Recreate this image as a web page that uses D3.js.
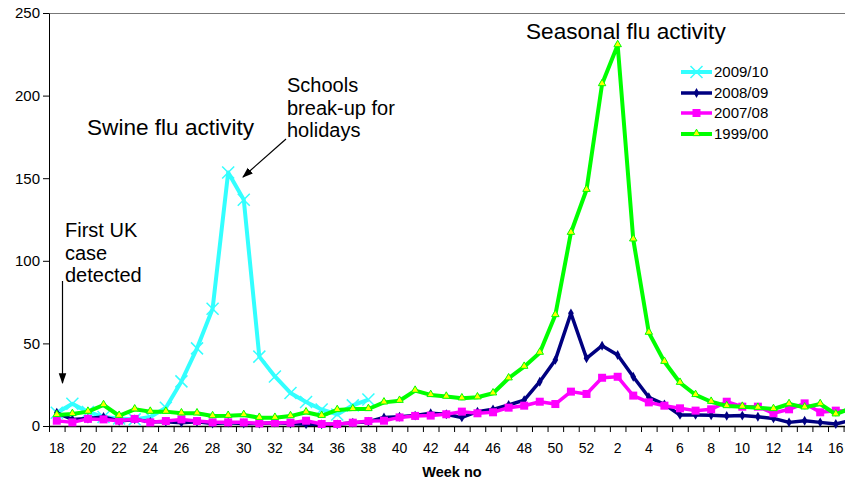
<!DOCTYPE html>
<html>
<head>
<meta charset="utf-8">
<script src="https://cdn.jsdelivr.net/npm/d3@7"></script>
<style>
    body {
        margin: 0;
        background: #fff;
    }
    svg {
        display: block;
        font-family: Arial, "Liberation Sans", sans-serif;
    }
    .axis path,
    .axis line {
        stroke: #000;
    }
    .axis text {
        fill: #000;
    }
</style>
</head>
<body>
<svg id="chart" width="845" height="481"></svg>
<script>
// week numbers run across the year end: 18..52 then 1..17
const weeks = [18, 19, 20, 21, 22, 23, 24, 25, 26, 27, 28, 29, 30, 31, 32, 33, 34, 35, 36, 37, 38, 39, 40, 41, 42, 43, 44, 45, 46, 47, 48, 49, 50, 51, 52,
    1, 2, 3, 4, 5, 6, 7, 8, 9, 10, 11, 12, 13, 14, 15, 16, 17];
const weekLabels = [18, 20, 22, 24, 26, 28, 30, 32, 34, 36, 38, 40, 42, 44, 46, 48, 50, 52, 2, 4, 6, 8, 10, 12, 14, 16];
const yTicks = [0, 50, 100, 150, 200, 250];

const season0910 = [8, 13.5, 8.5, 5.5, 4.5, 4, 5.5, 11, 27, 47, 71, 153.5, 137, 42, 30, 20, 14.5, 10, 7, 12.5, 16];
const season0809 = [8, 4, 4.5, 5.5, 3, 4, 2.5, 2.5, 2, 2.5, 1.5, 2, 1.5, 1.5, 2, 1.5, 1, 1, 1, 2, 2.6, 5.2, 5.6, 6.3, 7.7, 7.1, 5.2, 8.7, 10.1, 12.7, 15.7, 26.8, 40, 68.2, 41,
    48.6, 43, 29.8, 17.4, 13.1, 6.7, 6.7, 6.5, 6.1, 6.3, 5.6, 4.6, 2.2, 3.2, 2.2, 1.2, 3.5];
const season0708 = [3.2, 2.2, 4.3, 4, 3.2, 4.3, 2.2, 3, 4, 3, 2.2, 2.2, 2.2, 1.6, 2, 2, 3.2, 1.2, 1.2, 2, 3, 3.2, 5.2, 6.1, 6.3, 7.1, 8.7, 7.7, 8.3, 11.1, 12.3, 14.7, 13.3, 20.8, 19.4,
    29.2, 29.8, 18.4, 14.3, 12.3, 10.7, 9.3, 10.1, 14.7, 11.7, 11.7, 7.7, 10.1, 13.7, 8.3, 9.3, 9];
const season9900 = [6.7, 7.3, 8.7, 12.7, 6.2, 10.1, 8.7, 8.7, 7.7, 7.7, 6, 6.2, 6.7, 5, 5, 6, 8.3, 6.2, 9.7, 10.3, 10.3, 14.3, 15.3, 21.4, 18.8, 17.8, 16.8, 17.4, 19.8, 28.9, 35.9, 44.4, 67.2, 117, 143,
    207, 230.6, 113, 56.5, 38.9, 26.2, 18.8, 14.7, 12.1, 11.7, 11.1, 10.3, 13.3, 11.3, 13.3, 7.1, 11];

const series = [
    { name: '2009/10', values: season0910, color: '#33ffff', width: 4, marker: 'cross' },
    { name: '2008/09', values: season0809, color: '#000080', width: 3.5, marker: 'diamond' },
    { name: '2007/08', values: season0708, color: '#ff00ff', width: 3.5, marker: 'square' },
    { name: '1999/00', values: season9900, color: '#00ff00', width: 4, marker: 'triangle' },
];

const svg = d3.select('#chart');
const plotLeft = 49, plotTop = 13, plotBottom = 426, step = 15.58;

const x = d3.scaleBand().domain(weeks).range([plotLeft, plotLeft + weeks.length * step]);
const xEdge = d3.scaleLinear().domain([0, weeks.length]).range(x.range());
const y = d3.scaleLinear().domain([0, 250]).range([plotBottom, plotTop]);
const cx = w => x(w) + x.bandwidth() / 2;

// top border of plot area
svg.append('line').attr('x1', plotLeft).attr('x2', 845).attr('y1', plotTop + 0.5).attr('y2', plotTop + 0.5).attr('stroke', '#777');

// y axis
const yAxis = svg.append('g').attr('class', 'axis').attr('transform', `translate(${plotLeft},0)`)
    .call(d3.axisLeft(y).tickValues(yTicks).tickSize(6).tickPadding(3).tickSizeOuter(0));
yAxis.selectAll('text').style('font-size', '15px');

// x axis tick marks on category edges
svg.append('g').attr('class', 'axis').attr('transform', `translate(0,${plotBottom})`)
    .call(d3.axisBottom(xEdge).tickValues(d3.range(weeks.length + 1)).tickSize(6).tickFormat('').tickSizeOuter(0))
    .select('.domain').remove();
svg.append('line').attr('x1', plotLeft).attr('x2', 845).attr('y1', plotBottom + 0.5).attr('y2', plotBottom + 0.5).attr('stroke', '#000').attr('stroke-width', 1.5);

// x labels at category centres
const xAxis = svg.append('g').attr('class', 'axis').attr('transform', `translate(0,${plotBottom})`)
    .call(d3.axisBottom(x).tickValues(weekLabels).tickSize(0).tickPadding(17));
xAxis.select('.domain').remove();
xAxis.selectAll('text').style('font-size', '14px');

svg.append('text').attr('x', 452).attr('y', 477).attr('text-anchor', 'middle')
    .style('font-size', '14.5px').style('font-weight', 'bold').text('Week no');

// markers
function drawMarker(g, s, px, py) {
    if (s.marker === 'cross') {
        g.append('path').attr('d', `M${px - 6},${py - 6}L${px + 6},${py + 6}M${px - 6},${py + 6}L${px + 6},${py - 6}`)
            .attr('stroke', s.color).attr('stroke-width', 1.5).attr('fill', 'none');
    } else if (s.marker === 'diamond') {
        g.append('path').attr('d', d3.symbol(d3.symbolDiamond, 28)()).attr('transform', `translate(${px},${py})`).attr('fill', s.color);
    } else if (s.marker === 'square') {
        g.append('rect').attr('x', px - 4).attr('y', py - 4).attr('width', 8).attr('height', 8).attr('fill', s.color);
    } else {
        g.append('path').attr('d', d3.symbol(d3.symbolTriangle, 24)()).attr('transform', `translate(${px},${py - 0.5})`)
            .attr('fill', '#ffff00').attr('stroke', s.color).attr('stroke-width', 1);
    }
}

const line = d3.line()
    .defined(d => d.v != null)
    .x(d => cx(d.w))
    .y(d => y(d.v));

series.forEach(s => {
    const pts = s.values.map((v, i) => ({ w: weeks[i], v }));
    const g = svg.append('g');
    g.append('path').datum(pts).attr('d', line).attr('fill', 'none')
        .attr('stroke', s.color).attr('stroke-width', s.width).attr('stroke-linejoin', 'round');
    pts.forEach(p => drawMarker(g, s, cx(p.w), y(p.v)));
});

// legend
const legendRows = [72, 93, 113, 134];
series.forEach((s, i) => {
    const g = svg.append('g');
    const ly = legendRows[i];
    g.append('line').attr('x1', 681).attr('x2', 712).attr('y1', ly).attr('y2', ly)
        .attr('stroke', s.color).attr('stroke-width', s.width);
    drawMarker(g, s, 696.5, ly);
    g.append('text').attr('x', 714).attr('y', ly).attr('dy', '0.36em').style('font-size', '15px').text(s.name);
});

// annotations
svg.append('defs').append('marker')
    .attr('id', 'arrow').attr('viewBox', '0 0 10 10').attr('refX', 9).attr('refY', 5)
    .attr('markerWidth', 9).attr('markerHeight', 9).attr('orient', 'auto')
    .append('path').attr('d', 'M0,1.5L10,5L0,8.5Z').attr('fill', '#000');

function label(lines, lx, ly, size, lh) {
    const t = svg.append('text').attr('x', lx).attr('y', ly).style('font-size', size + 'px').attr('fill', '#000');
    lines.forEach((l, i) => t.append('tspan').attr('x', lx).attr('y', ly + i * lh).text(l));
}

label(['Swine flu activity'], 87, 135, 22.6, 0);
label(['Seasonal flu activity'], 526, 39, 22.6, 0);
label(['Schools', 'break-up for', 'holidays'], 287, 92, 20, 22.5);
label(['First UK', 'case', 'detected'], 65, 237, 20, 22.5);

svg.append('line').attr('x1', 286).attr('y1', 139).attr('x2', 243).attr('y2', 177)
    .attr('stroke', '#000').attr('stroke-width', 1.2).attr('marker-end', 'url(#arrow)');
svg.append('line').attr('x1', 62.5).attr('y1', 281).attr('x2', 62.5).attr('y2', 383)
    .attr('stroke', '#000').attr('stroke-width', 1.2).attr('marker-end', 'url(#arrow)');
</script>
</body>
</html>
